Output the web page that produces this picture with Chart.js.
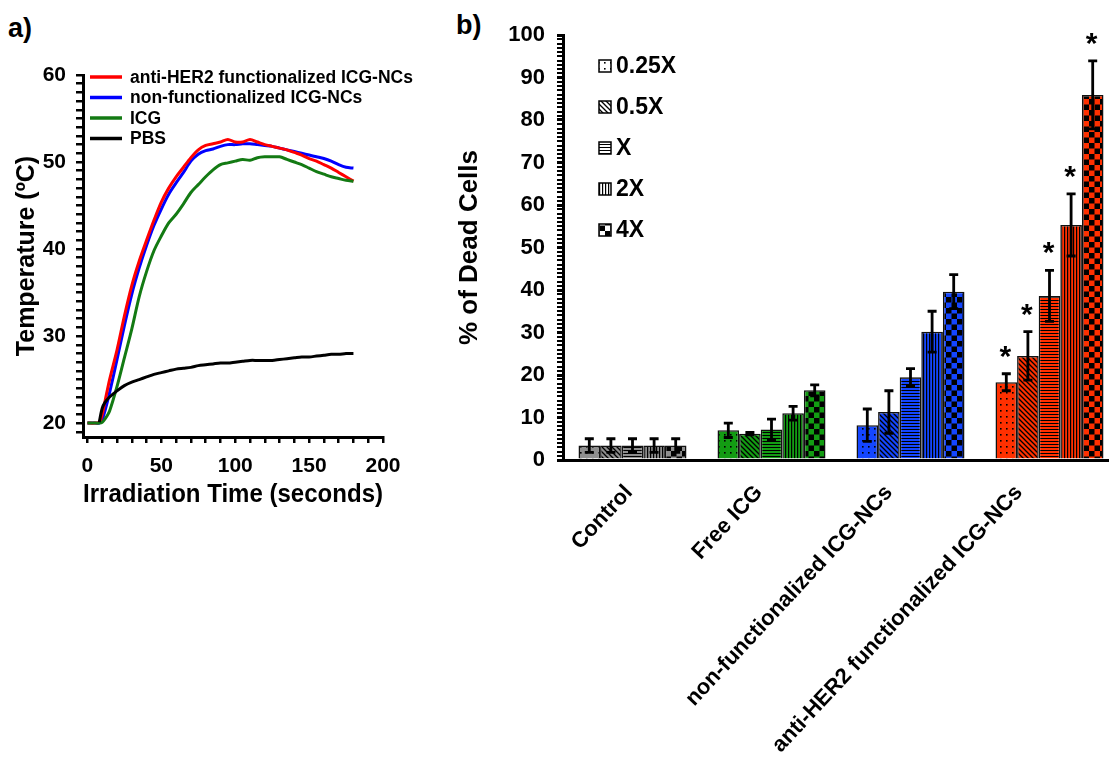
<!DOCTYPE html>
<html><head><meta charset="utf-8">
<script src="https://cdn.jsdelivr.net/npm/chart.js@4.4.0/dist/chart.umd.min.js"></script>
<style>
html,body{margin:0;padding:0;background:#fff;overflow:hidden;width:1109px;height:759px;}
#ca{position:absolute;left:0;top:0;}
#cb{position:absolute;left:440px;top:0;}
.pl{position:absolute;font:bold 27px "Liberation Sans",Arial,sans-serif;color:#000;}
</style></head><body>
<div class="pl" style="left:8px;top:13px">a)</div>
<div class="pl" style="left:456px;top:10px">b)</div>
<canvas id="ca" width="440" height="520"></canvas>
<canvas id="cb" width="690" height="759"></canvas>
<script>
// ---------- Panel a data ----------
const time = [0,5,8,10,12,15,20,25,30,35,40,45,50,55,60,65,70,75,80,85,90,95,100,105,110,115,120,125,130,135,140,145,150,155,160,165,170,175,180];
const tempAntiHER2 = [20,20,20.1,21,22.6,25,28.4,32.3,35.8,38.6,41,43.3,45.4,47,48.3,49.4,50.5,51.4,51.9,52.1,52.3,52.6,52.3,52.3,52.6,52.3,52.0,51.8,51.6,51.4,51.1,50.8,50.4,50.1,49.7,49.3,48.8,48.3,47.8];
const tempNonFunc = [20,20,20,20.4,21.5,23.5,27.3,31.2,34.8,37.8,40.4,42.7,44.6,46.3,47.6,48.8,50.1,50.9,51.3,51.5,51.8,52.0,52.0,52.1,52.1,52.0,51.9,51.8,51.6,51.4,51.2,51.0,50.8,50.6,50.4,50.1,49.7,49.4,49.3];
const tempICG = [20,20,20,20.1,20.5,21.4,24.2,27.5,30.8,34.5,37.4,39.8,41.5,43.0,44.0,45.2,46.5,47.4,48.3,49.1,49.7,49.9,50.1,50.3,50.2,50.5,50.6,50.6,50.6,50.3,50.0,49.7,49.3,48.9,48.6,48.3,48.1,47.9,47.8];
const tempPBS = [null,null,20.1,21.7,22.4,23.0,23.7,24.3,24.7,25.0,25.3,25.6,25.8,26.0,26.2,26.3,26.4,26.6,26.7,26.8,26.9,26.9,27.0,27.1,27.2,27.2,27.2,27.2,27.3,27.4,27.5,27.6,27.6,27.7,27.8,27.9,27.9,28.0,28.0];
const seriesNamesA = ['anti-HER2 functionalized ICG-NCs','non-functionalized ICG-NCs','ICG','PBS'];
const xTicksA = [0,50,100,150,200];
const yTicksA = [20,30,40,50,60];

// ---------- Panel b data ----------
const groups = ['Control','Free ICG','non-functionalized ICG-NCs','anti-HER2 functionalized ICG-NCs'];
const doses = ['0.25X','0.5X','X','2X','4X'];
const dead025 = [3.4, 7.0, 8.2, 18.3];
const dead05  = [3.4, 6.2, 11.3, 24.5];
const deadX   = [3.4, 7.2, 19.5, 38.6];
const dead2X  = [3.4, 11.0, 30.2, 55.3];
const dead4X  = [3.4, 16.4, 39.6, 85.9];
const err025 = [1.6, 1.7, 3.8, 2.0];
const err05  = [1.6, 0.3, 5.0, 5.7];
const errX   = [1.6, 2.4, 2.0, 6.0];
const err2X  = [1.6, 1.6, 4.8, 7.3];
const err4X  = [1.6, 1.3, 4.0, 8.0];
const significant = [false, false, false, true];
const yTicksB = [0,10,20,30,40,50,60,70,80,90,100];

// ---------- styling ----------
const FONT = '"Liberation Sans", Arial, Helvetica, sans-serif';
Chart.defaults.font.family = FONT;
Chart.defaults.color = '#000';
const lineColors = ['#ff0000','#0000ff','#137a13','#000000'];
const groupColors = ['#8e8e8e','#139c13','#1446ff','#ff3000'];
const patternKinds = ['dots','diag','hlines','vlines','checker'];

function makePattern(kind, color) {
  const c = document.createElement('canvas');
  let w = 6, h = 6;
  if (kind === 'hlines') { w = 3; h = 3; }
  if (kind === 'vlines') { w = 3; h = 3; }
  if (kind === 'checker') { w = 11; h = 11; }
  if (kind === 'diag') { w = 5; h = 5; }
  c.width = w; c.height = h;
  const g = c.getContext('2d');
  g.fillStyle = color; g.fillRect(0,0,w,h);
  g.fillStyle = '#000'; g.strokeStyle = '#000';
  if (kind === 'dots') { g.fillRect(2,2,1.6,1.6); }
  else if (kind === 'hlines') { g.fillRect(0,0,w,1); }
  else if (kind === 'vlines') { g.fillRect(0,0,1.2,h); }
  else if (kind === 'checker') { g.fillRect(0,0,5.5,5.5); g.fillRect(5.5,5.5,5.5,5.5); }
  else if (kind === 'diag') {
    g.lineWidth = 1.3;
    g.beginPath();
    g.moveTo(-1,-1); g.lineTo(w+1,h+1);
    g.moveTo(-1,h-1); g.lineTo(1,h+1);
    g.moveTo(w-1,-1); g.lineTo(w+1,1);
    g.stroke();
  }
  return g.createPattern(c,'repeat');
}

// ---------- Panel a ----------
const seriesA = [tempAntiHER2, tempNonFunc, tempICG, tempPBS];
const drawOrderA = [2,3,1,0];
const legendA = {
  id:'legendA',
  afterDraw(chart){
    const ctx = chart.ctx, a = chart.chartArea;
    ctx.save();
    ctx.font = 'bold 17.5px ' + FONT;
    ctx.textBaseline = 'middle';
    chart.data.datasets.forEach((ds,i)=>{
      const y = a.top + 2 + i*20.5;
      ctx.strokeStyle = ds.borderColor; ctx.lineWidth = 3.5;
      ctx.beginPath(); ctx.moveTo(a.left+7,y); ctx.lineTo(a.left+39,y); ctx.stroke();
      ctx.fillStyle = '#000';
      ctx.fillText(ds.label, a.left+47, y+1);
    });
    ctx.restore();
  }
};
new Chart(document.getElementById('ca'), {
  type:'line',
  data:{
    datasets: seriesA.map((arr,i)=>({
      label: seriesNamesA[i],
      data: time.map((t,k)=>({x:t,y:arr[k]})).filter(p=>p.y!==null),
      borderColor: lineColors[i],
      borderWidth: 3,
      pointRadius: 0,
      tension: 0.3,
      fill:false,
      order: drawOrderA[i]
    }))
  },
  options:{
    responsive:false, animation:false,
    layout:{padding:{top:75,right:57,left:0,bottom:0}},
    plugins:{legend:{display:false}, tooltip:{enabled:false}},
    scales:{
      x:{
        type:'linear', min:-3, max:200,
        afterBuildTicks: s => { const t=[]; for(let v=0; v<=200; v+=10) t.push({value:v}); s.ticks=t; },
        ticks:{autoSkip:false, maxRotation:0, padding:11, font:{size:21, weight:'bold'},
          callback: v => xTicksA.includes(v) ? v : ''},
        grid:{display:true, drawOnChartArea:false, drawTicks:true, tickLength:6, color:'#000', lineWidth:2.5},
        border:{display:true, color:'#000', width:3},
        title:{display:true, text:'Irradiation Time (seconds)', font:{size:25, weight:'bold'}, padding:{top:0,bottom:10}},
        afterFit: s => { s.height = 83; }
      },
      y:{
        type:'linear', min:18.4, max:60,
        afterBuildTicks: s => { const t=[]; for(let v=19; v<=60; v++) t.push({value:v}); s.ticks=t; },
        ticks:{autoSkip:false, padding:10, font:{size:21, weight:'bold'},
          callback: v => yTicksA.includes(v) ? v : ''},
        grid:{display:true, drawOnChartArea:false, drawTicks:true, tickLength:7, color:'#000', lineWidth:2.5},
        border:{display:true, color:'#000', width:3},
        title:{display:true, text:'Temperature (ºC)', font:{size:25, weight:'bold'}, padding:{top:12,bottom:0}},
        afterFit: s => { s.width = 83; }
      }
    }
  },
  plugins:[legendA]
});

// ---------- Panel b ----------
const deadSeries = [dead025, dead05, deadX, dead2X, dead4X];
const errSeries = [err025, err05, errX, err2X, err4X];

const errorBars = {
  id:'errorBars',
  afterDatasetsDraw(chart){
    const ctx = chart.ctx, ys = chart.scales.y;
    ctx.save();
    chart.data.datasets.forEach((ds,di)=>{
      const meta = chart.getDatasetMeta(di);
      meta.data.forEach((bar,i)=>{
        const v = ds.data[i], e = ds.errors[i];
        const x = bar.x;
        const top = ys.getPixelForValue(v+e), bot = ys.getPixelForValue(v-e);
        ctx.strokeStyle = '#000'; ctx.lineWidth = 2.8;
        ctx.beginPath();
        ctx.moveTo(x, top); ctx.lineTo(x, bot);
        ctx.moveTo(x-4.5, top); ctx.lineTo(x+4.5, top);
        ctx.moveTo(x-4.5, bot); ctx.lineTo(x+4.5, bot);
        ctx.stroke();
        if (significant[i]) {
          ctx.fillStyle = '#000';
          ctx.font = 'bold 30px ' + FONT;
          ctx.textAlign = 'center'; ctx.textBaseline = 'alphabetic';
          ctx.fillText('*', x-1, top - 8);
        }
      });
    });
    ctx.restore();
  }
};
const legendB = {
  id:'legendB',
  afterDraw(chart){
    const ctx = chart.ctx, a = chart.chartArea;
    ctx.save();
    doses.forEach((d,i)=>{
      const cy = a.top + 31 + i*41;
      const x0 = a.left + 36;
      ctx.fillStyle = makePattern(patternKinds[i], '#ffffff');
      ctx.fillRect(x0, cy-6, 12, 12);
      ctx.strokeStyle = '#000'; ctx.lineWidth = 1.5;
      ctx.strokeRect(x0, cy-6, 12, 12);
      ctx.fillStyle = '#000';
      ctx.font = 'bold 23px ' + FONT;
      ctx.textBaseline = 'middle';
      ctx.fillText(d, x0 + 17, cy + 1);
    });
    ctx.restore();
  }
};

new Chart(document.getElementById('cb'), {
  type:'bar',
  data:{
    labels: groups,
    datasets: deadSeries.map((arr,i)=>({
      label: doses[i],
      data: arr,
      errors: errSeries[i],
      backgroundColor: groupColors.map(c => makePattern(patternKinds[i], c)),
      borderColor:'#111',
      borderWidth:1.5,
      barPercentage:1,
      categoryPercentage:0.777
    }))
  },
  options:{
    responsive:false, animation:false,
    layout:{padding:{top:35,right:11,left:0,bottom:0}},
    plugins:{legend:{display:false}, tooltip:{enabled:false}},
    scales:{
      x:{ type:'category', display:false, offset:true, grid:{offset:true} },
      xl:{
        type:'linear', position:'bottom', offset:false, min:-0.507, max:3.769,
        afterBuildTicks: s => { s.ticks = groups.map((g,i)=>({value:i})); },
        ticks:{autoSkip:false, minRotation:47, maxRotation:47, padding:20, font:{size:22, weight:'bold'},
          callback: v => groups[v]},
        grid:{display:false, drawTicks:false, offset:false},
        border:{display:true, color:'#000', width:3},
        afterFit: s => { s.height = 299; }
      },
      y:{
        type:'linear', min:0, max:100,
        afterBuildTicks: s => { const t=[]; for(let v=0; v<=100; v++) t.push({value:v}); s.ticks=t; },
        ticks:{autoSkip:false, padding:12, font:{size:22, weight:'bold'},
          callback: v => yTicksB.includes(v) ? v : ''},
        grid:{display:true, drawOnChartArea:false, drawTicks:true, tickLength:6, color:'#000',
          lineWidth: c => (c.tick && c.tick.value % 10 === 0) ? 3 : 2},
        border:{display:true, color:'#000', width:3},
        title:{display:true, text:'% of Dead Cells', font:{size:26, weight:'bold'}, padding:{top:14,bottom:0}},
        afterFit: s => { s.width = 123; }
      }
    }
  },
  plugins:[errorBars, legendB]
});
</script>
</body></html>
